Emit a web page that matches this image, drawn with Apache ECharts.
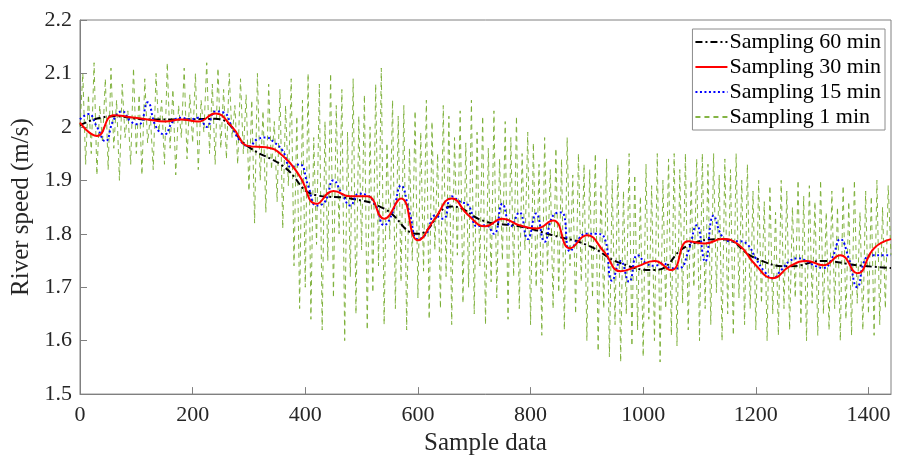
<!DOCTYPE html>
<html>
<head>
<meta charset="utf-8">
<script src="https://cdn.jsdelivr.net/npm/echarts@6/dist/echarts.min.js"></script>
<style>html,body{margin:0;padding:0;background:#fff;}#c{width:897px;height:461px;}</style>
</head>
<body>
<div id="c"></div>
<script>
// Sample index steps (minutes)
const step60 = 60, step30 = 30, step15 = 15, step1 = 5;

const sampling60 = [2.003, 2.02, 2.014, 2.014, 2.015, 1.962, 1.927, 1.872, 1.866, 1.847,
  1.80, 1.851, 1.823, 1.814, 1.797, 1.779, 1.745, 1.732, 1.778, 1.79, 1.754, 1.739, 1.749,
  1.741, 1.736];

const sampling30 = [2.008, 1.983, 2.022, 2.018, 2.014, 2.01, 2.014, 2.01, 2.025, 2.0,
  1.964, 1.962, 1.946, 1.908, 1.856, 1.88, 1.87, 1.87, 1.828, 1.866,
  1.788, 1.828, 1.866, 1.834, 1.814, 1.828, 1.816, 1.81, 1.825, 1.773,
  1.797, 1.767, 1.73, 1.739, 1.749, 1.732, 1.786, 1.782, 1.79, 1.779,
  1.741, 1.717, 1.739, 1.749, 1.741, 1.76, 1.726, 1.773, 1.79];

const sampling15 = [2.014, 2.024, 2.0, 1.973, 2.014, 2.029, 2.01, 2.005, 2.046, 2.0,
  1.986, 2.01, 2.017, 2.014, 2.017, 2.0, 2.029, 2.027, 2.0, 1.973,
  1.964, 1.977, 1.98, 1.971, 1.955, 1.925, 1.93, 1.89, 1.853, 1.86,
  1.90, 1.875, 1.853, 1.875, 1.872, 1.853, 1.816, 1.84, 1.89, 1.84,
  1.79, 1.80, 1.834, 1.828, 1.87, 1.86, 1.853, 1.814, 1.816, 1.80,
  1.856, 1.814, 1.84, 1.79, 1.838, 1.785, 1.834, 1.84, 1.767, 1.79,
  1.80, 1.80, 1.795, 1.712, 1.749, 1.71, 1.76, 1.745, 1.74, 1.745,
  1.735, 1.736, 1.767, 1.816, 1.748, 1.834, 1.795, 1.786, 1.786, 1.78,
  1.754, 1.73, 1.717, 1.732, 1.749, 1.754, 1.749, 1.74, 1.736, 1.754,
  1.79, 1.754, 1.70, 1.754, 1.76, 1.76, 1.76];

const sampling1 = [
  2.00, 2.10, 1.93, 2.06, 1.95, 2.12, 1.91, 2.04, 1.97, 2.09,
  1.92, 2.11, 1.96, 2.05, 1.90, 2.08, 1.98, 2.03, 1.93, 2.11,
  1.95, 2.06, 1.91, 2.09, 1.97, 2.02, 1.92, 2.10, 1.99, 2.05,
  1.93, 2.12, 1.96, 2.07, 1.91, 2.04, 1.98, 2.11, 1.94, 2.06,
  1.97, 2.10, 1.92, 2.05, 1.99, 2.12, 1.95, 2.08, 1.93, 2.11,
  1.96, 2.07, 1.94, 2.10, 1.98, 2.04, 1.93, 2.09, 1.95, 2.06,
  1.88, 2.05, 1.82, 2.10, 1.90, 2.03, 1.84, 2.08, 1.92, 2.01,
  1.86, 2.07, 1.81, 2.04, 1.89, 2.09, 1.74, 2.02, 1.66, 2.05,
  1.70, 2.10, 1.64, 1.98, 1.78, 2.08, 1.62, 2.01, 1.75, 2.10,
  1.68, 2.04, 1.80, 2.07, 1.60, 1.99, 1.72, 2.09, 1.65, 2.02,
  1.77, 2.06, 1.62, 2.00, 1.69, 2.08, 1.74, 2.11, 1.63, 1.97,
  1.79, 2.05, 1.66, 2.02, 1.71, 2.04, 1.62, 1.96, 1.75, 2.03,
  1.68, 1.99, 1.73, 2.05, 1.64, 2.01, 1.77, 1.95, 1.66, 2.04,
  1.72, 2.02, 1.63, 1.98, 1.76, 2.03, 1.67, 1.97, 1.70, 2.05,
  1.65, 1.99, 1.74, 2.02, 1.63, 1.96, 1.71, 2.03, 1.68, 1.94,
  1.75, 2.01, 1.64, 1.98, 1.72, 2.02, 1.66, 1.95, 1.77, 1.99,
  1.63, 1.97, 1.70, 1.93, 1.61, 1.98, 1.73, 1.92, 1.66, 1.96,
  1.69, 1.94, 1.62, 1.98, 1.74, 1.91, 1.65, 1.95, 1.71, 1.93,
  1.60, 1.92, 1.68, 1.95, 1.58, 1.89, 1.66, 1.94, 1.57, 1.90,
  1.63, 1.93, 1.56, 1.88, 1.65, 1.95, 1.59, 1.91, 1.62, 1.87,
  1.57, 1.93, 1.64, 1.89, 1.60, 1.95, 1.56, 1.90, 1.66, 1.94,
  1.61, 1.95, 1.59, 1.92, 1.67, 1.95, 1.62, 1.90, 1.70, 1.94,
  1.60, 1.95, 1.66, 1.93, 1.63, 1.95, 1.69, 1.91, 1.60, 1.94,
  1.65, 1.92, 1.61, 1.95, 1.68, 1.90, 1.63, 1.93, 1.66, 1.88,
  1.62, 1.90, 1.67, 1.86, 1.60, 1.89, 1.65, 1.84, 1.61, 1.90,
  1.66, 1.88, 1.62, 1.85, 1.68, 1.90, 1.63, 1.87, 1.60, 1.89,
  1.67, 1.86, 1.61, 1.90, 1.65, 1.84, 1.62, 1.88, 1.66, 1.85,
  1.60, 1.89, 1.64, 1.86, 1.61, 1.90, 1.67, 1.84, 1.62, 1.88,
  1.65, 1.87, 1.61, 1.90, 1.63, 1.85, 1.66, 1.89, 1.76];

const seriesNames = ['Sampling 60 min', 'Sampling 30 min', 'Sampling 15 min', 'Sampling 1 min'];
const xTicks = [0, 200, 400, 600, 800, 1000, 1200, 1400];

function pairs(arr, step) { return arr.map((v, i) => [i * step, v]); }

const FONT = '"Liberation Serif", "Times New Roman", serif';
const chart = echarts.init(document.getElementById('c'), null, {renderer: 'canvas'});
chart.setOption({
  animation: false,
  backgroundColor: '#fff',
  grid: {left: 80, right: 6, top: 20, bottom: 64, show: true, borderColor: '#808080', borderWidth: 1},
  legend: {
    orient: 'vertical', right: 12, top: 29,
    backgroundColor: '#fff', borderColor: '#8c8c8c', borderWidth: 1, borderRadius: 0,
    padding: [2, 4, 2, 2], itemGap: 3, itemWidth: 32, itemHeight: 14,
    itemStyle: {opacity: 0},
    textStyle: {fontFamily: FONT, fontSize: 22, color: '#000', padding: [0, 0, 0, -3]},
    data: seriesNames
  },
  xAxis: {
    type: 'value', min: 0, max: 1440, interval: 200,
    name: 'Sample data', nameLocation: 'middle', nameGap: 27,
    nameTextStyle: {fontFamily: FONT, fontSize: 25, color: '#262626'},
    axisLine: {show: true, lineStyle: {color: '#808080', width: 1}},
    axisTick: {show: true, inside: true, length: 7, lineStyle: {color: '#808080'}},
    axisLabel: {fontFamily: FONT, fontSize: 22, color: '#262626', margin: 10, showMaxLabel: false,
      formatter: v => xTicks.includes(v) ? String(v) : ''},
    splitLine: {show: false}
  },
  yAxis: {
    type: 'value', min: 1.5, max: 2.2, interval: 0.1,
    name: 'River speed (m/s)', nameLocation: 'middle', nameGap: 44, nameRotate: 90,
    nameTextStyle: {fontFamily: FONT, fontSize: 25, color: '#262626'},
    axisLine: {show: true, lineStyle: {color: '#808080', width: 1}},
    axisTick: {show: true, inside: true, length: 7, lineStyle: {color: '#808080'}},
    axisLabel: {fontFamily: FONT, fontSize: 22, color: '#262626', margin: 8,
      formatter: v => String(+v.toFixed(1))},
    splitLine: {show: false}
  },
  series: [
    {name: seriesNames[3], type: 'line', data: pairs(sampling1, step1), symbol: 'none', z: 1,
      lineStyle: {color: '#77AC30', width: 1, type: [5, 4], opacity: 0.9}, itemStyle: {color: '#77AC30'}},
    {name: seriesNames[0], type: 'line', data: pairs(sampling60, step60), symbol: 'none', smooth: 0.5, z: 2,
      lineStyle: {color: '#000', width: 2, type: [7, 3, 2, 3]}, itemStyle: {color: '#000'}},
    {name: seriesNames[2], type: 'line', data: pairs(sampling15, step15), symbol: 'none', smooth: 0.5, z: 3,
      lineStyle: {color: '#0000FF', width: 2, type: [2, 2.5]}, itemStyle: {color: '#0000FF'}},
    {name: seriesNames[1], type: 'line', data: pairs(sampling30, step30), symbol: 'none', smooth: 0.5, z: 4,
      lineStyle: {color: '#FF0000', width: 2}, itemStyle: {color: '#FF0000'}}
  ]
});
</script>
</body>
</html>
